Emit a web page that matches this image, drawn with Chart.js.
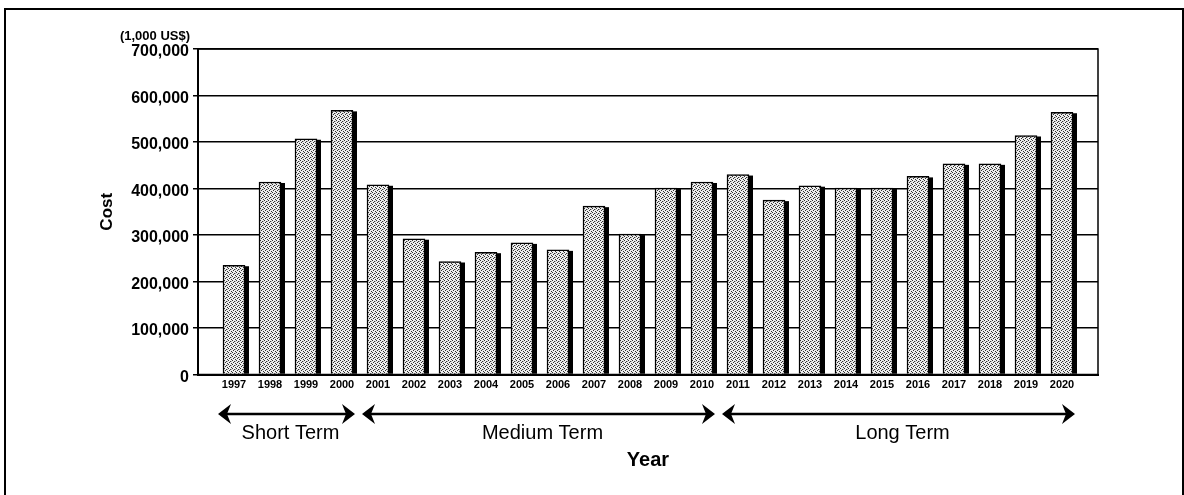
<!DOCTYPE html>
<html>
<head>
<meta charset="utf-8">
<script src="https://cdn.jsdelivr.net/npm/chart.js@4"></script>
<style>
  html, body { margin: 0; padding: 0; background: #fff; }
  #wrap { position: relative; width: 1184px; height: 495px; overflow: hidden; }
  #frame { position: absolute; left: 4px; top: 8px; width: 1180px; height: 520px; border: 2px solid #000; box-sizing: border-box; }
  canvas { position: absolute; left: 0; top: 0; }
</style>
</head>
<body>
<div id="wrap">
  <div id="frame"></div>
  <canvas id="c" width="1184" height="495"></canvas>
</div>
<script>
// Annual cost, in thousands of US dollars
const years = [1997, 1998, 1999, 2000, 2001, 2002, 2003, 2004, 2005, 2006, 2007, 2008,
               2009, 2010, 2011, 2012, 2013, 2014, 2015, 2016, 2017, 2018, 2019, 2020];
const costs = [235000, 414000, 507000, 568000, 408000, 292000, 243000, 263000, 283000, 268000, 362000, 302000,
               401000, 414000, 430000, 375000, 406000, 401000, 401000, 426000, 453000, 453000, 514000, 564000];
const yTicks = [0, 100000, 200000, 300000, 400000, 500000, 600000, 700000];
const unitLabel = '(1,000 US$)';
const termLabels = ['Short Term', 'Medium Term', 'Long Term'];
const termFirst = [1997, 2001, 2011];
const termLast = [2000, 2010, 2020];

const FONT = '"Liberation Sans", Arial, Helvetica, sans-serif';

// stippled grey fill for the bars
function stipple() {
  const c = document.createElement('canvas');
  c.width = 4; c.height = 4;
  const g = c.getContext('2d');
  g.fillStyle = '#eeeeee';
  g.fillRect(0, 0, 4, 4);
  g.fillStyle = '#333';
  [[0, 0], [2, 1], [1, 2], [3, 3]].forEach(([px, py]) => g.fillRect(px, py, 1, 1));
  g.fillStyle = '#b0b0b0';
  [[3, 1]].forEach(([px, py]) => g.fillRect(px, py, 1, 1));
  return g.createPattern(c, 'repeat');
}

// filled arrowhead with a notched back, pointing in direction dir (+1 right, -1 left)
function arrowHead(ctx, x, y, dir) {
  ctx.beginPath();
  ctx.moveTo(x, y);
  ctx.lineTo(x - dir * 13, y - 10);
  ctx.lineTo(x - dir * 9, y);
  ctx.lineTo(x - dir * 13, y + 10);
  ctx.closePath();
  ctx.fill();
}

// drop shadow on the right of each bar, plot frame, term arrows and unit label
const decor = {
  id: 'decor',
  beforeDatasetsDraw(chart) {
    const ctx = chart.ctx;
    ctx.save();
    ctx.fillStyle = '#000';
    chart.getDatasetMeta(0).data.forEach(el => {
      const p = el.getProps(['x', 'y', 'base', 'width'], true);
      ctx.fillRect(p.x + p.width / 2 - 0.5, p.y + 1, 4.5, p.base - p.y - 1);
    });
    ctx.restore();
  },
  afterDraw(chart) {
    const ctx = chart.ctx;
    const a = chart.chartArea;
    const xs = chart.scales.x;
    ctx.save();
    ctx.strokeStyle = '#000';
    ctx.lineWidth = 1.5;
    ctx.strokeRect(a.left, a.top, a.right - a.left, a.bottom - a.top);

    // unit label above the value axis
    ctx.fillStyle = '#000';
    ctx.font = 'bold 13px ' + FONT;
    ctx.textAlign = 'right';
    ctx.textBaseline = 'middle';
    ctx.fillText(unitLabel, a.left - 8, a.top - 13);

    // term spans with double-headed arrows
    const ay = a.bottom + 39.5;
    ctx.lineWidth = 2.5;
    termLabels.forEach((label, k) => {
      const x0 = xs.getPixelForValue(years.indexOf(termFirst[k]) - 0.5) + 2;
      const x1 = xs.getPixelForValue(years.indexOf(termLast[k]) + 0.5) - 5;
      ctx.beginPath();
      ctx.moveTo(x0 + 8, ay);
      ctx.lineTo(x1 - 8, ay);
      ctx.stroke();
      arrowHead(ctx, x0, ay, -1);
      arrowHead(ctx, x1, ay, 1);
      ctx.font = '20px ' + FONT;
      ctx.textAlign = 'center';
      ctx.fillText(label, (x0 + x1) / 2 + 4, ay + 19.5);
    });
    ctx.restore();
  }
};

const ctx = document.getElementById('c').getContext('2d');
new Chart(ctx, {
  type: 'bar',
  data: {
    datasets: [{
      data: costs.map((v, i) => ({ x: i, y: v })),
      backgroundColor: stipple(),
      borderColor: '#000',
      borderWidth: 1.5,
      barThickness: 22
    }]
  },
  options: {
    responsive: false,
    animation: false,
    layout: { padding: { top: 49, right: 86, left: 0, bottom: 0 } },
    plugins: { legend: { display: false }, tooltip: { enabled: false } },
    scales: {
      x: {
        type: 'linear',
        offset: false,
        min: -1,
        max: 24,
        afterBuildTicks: s => { s.ticks = years.map((y, i) => ({ value: i })); },
        afterFit: s => { s.height = 120.5; },
        ticks: {
          autoSkip: false,
          maxRotation: 0,
          padding: 4,
          color: '#000',
          font: { family: FONT, size: 11, weight: 'bold' },
          callback: v => (years[v] !== undefined ? String(years[v]) : '')
        },
        grid: { display: false, drawTicks: false, offset: false },
        border: { display: true, color: '#000', width: 2 },
        title: {
          display: true,
          text: 'Year',
          color: '#000',
          font: { family: FONT, size: 20, weight: 'bold' },
          padding: { top: 0, bottom: 23 }
        }
      },
      y: {
        min: 0,
        max: 700000,
        afterBuildTicks: s => { s.ticks = yTicks.map(v => ({ value: v })); },
        afterFit: s => { s.width = 198; },
        ticks: {
          padding: 4,
          labelOffset: 3,
          color: '#000',
          font: { family: FONT, size: 16, weight: 'bold' },
          callback: v => v.toLocaleString('en-US')
        },
        grid: { color: '#000', lineWidth: 1.5, tickLength: 5, drawTicks: true },
        border: { color: '#000', width: 2 },
        title: {
          display: true,
          text: 'Cost',
          color: '#000',
          font: { family: FONT, size: 17, weight: 'bold' },
          padding: { top: 97, bottom: 0 }
        }
      }
    }
  },
  plugins: [decor]
});
</script>
</body>
</html>
